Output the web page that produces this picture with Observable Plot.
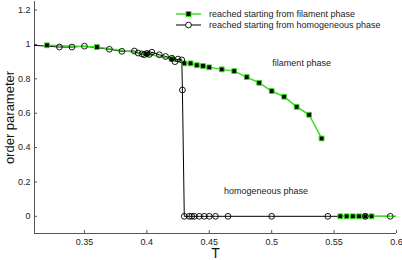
<!DOCTYPE html>
<html><head><meta charset="utf-8">
<script src="https://cdn.jsdelivr.net/npm/d3@7"></script>
<script src="https://cdn.jsdelivr.net/npm/@observablehq/plot@0.6"></script>
<style>
body{margin:0;background:#fff;font-family:"Liberation Sans",Arial,sans-serif;}
#wrap{position:relative;width:402px;height:260px;}
#legend{position:absolute;left:0;top:0;}
</style></head><body><div id="wrap"></div>
<script>
// series reached starting from filament phase (two branches)
const filamentT   = [0.32, 0.36, 0.40, 0.42, 0.43, 0.435, 0.44, 0.445, 0.45, 0.46, 0.47, 0.48, 0.49, 0.50, 0.51, 0.52, 0.53, 0.54,
                     0.555, 0.56, 0.565, 0.57, 0.575, 0.58, 0.61];
const filamentOP  = [0.995, 0.985, 0.945, 0.915, 0.89, 0.89, 0.879, 0.875, 0.867, 0.855, 0.845, 0.81, 0.777, 0.729, 0.696, 0.637, 0.591, 0.453,
                     0, 0, 0, 0, 0, 0, 0];
const filamentBranch = [1,1,1,1,1,1,1,1,1,1,1,1,1,1,1,1,1,1, 2,2,2,2,2,2,2];
// series reached starting from homogeneous phase
const homogT  = [0.30, 0.33, 0.34, 0.35, 0.37, 0.38, 0.39, 0.393, 0.396, 0.398, 0.400, 0.402, 0.404, 0.41, 0.415, 0.42, 0.4225, 0.425, 0.428, 0.4285,
                 0.43, 0.434, 0.436, 0.438, 0.442, 0.446, 0.45, 0.455, 0.465, 0.50, 0.545, 0.575, 0.595];
const homogOP = [1.0, 0.985, 0.985, 0.99, 0.972, 0.96, 0.962, 0.95, 0.945, 0.94, 0.948, 0.942, 0.955, 0.94, 0.93, 0.92, 0.90, 0.915, 0.91, 0.735,
                 0, 0, 0, 0, 0, 0, 0, 0, 0, 0, 0, 0, 0];
// axes
const xDomain = [0.31, 0.6];
const yDomain = [-0.1, 1.25];
const xTicks = [0.35, 0.4, 0.45, 0.5, 0.55, 0.6];
const xTickLabels = ["0.35", "0.4", "0.45", "0.5", "0.55", "0.6"];
const yTicks = [0, 0.2, 0.4, 0.6, 0.8, 1, 1.2];
const yTickLabels = ["0", "0.2", "0.4", "0.6", "0.8", "1", "1.2"];
const xLabel = "T";
const yLabel = "order parameter";
// annotations
const annoText = ["filament phase", "homogeneous phase"];
const annoT = [0.524, 0.4955];
const annoOP = [0.894, 0.149];
// legend
const legendLabels = ["reached starting from filament phase", "reached starting from homogeneous phase"];

const GREEN = "#3ddc24";
const fil = filamentT.map((t, i) => ({t, op: filamentOP[i], b: filamentBranch[i]}));
const hom = homogT.map((t, i) => ({t, op: homogOP[i]}));
const anno = annoText.map((s, i) => ({s, t: annoT[i], op: annoOP[i]}));

const fmtX = d => xTickLabels[xTicks.indexOf(d)];
const fmtY = d => yTickLabels[yTicks.indexOf(d)];

const chart = Plot.plot({
  width: 402, height: 260,
  marginLeft: 34, marginRight: 6, marginTop: 1, marginBottom: 27,
  style: {fontFamily: '"Liberation Sans", Arial, sans-serif', fontSize: "9px", color: "#222", background: "#fff"},
  x: {domain: xDomain, axis: null},
  y: {domain: yDomain, axis: null},
  marks: [
    Plot.ruleY([yDomain[0]], {stroke: "#555", strokeWidth: 1}),
    Plot.ruleX([xDomain[0]], {stroke: "#555", strokeWidth: 1}),
    Plot.axisX(xTicks, {anchor: "bottom", tickSize: -3, tickPadding: 8, tickFormat: fmtX, stroke: "#555", fill: "#222", label: null}),
    Plot.axisY(yTicks, {anchor: "left", tickSize: -3, tickPadding: 7, tickFormat: fmtY, stroke: "#555", fill: "#222", label: null}),
    Plot.text([yLabel], {frameAnchor: "left", dx: -25, rotate: -90, textAnchor: "middle", fontSize: 13, fill: "#111", text: d => d}),
    Plot.text([xLabel], {frameAnchor: "bottom", dy: 24.5, fontSize: 14, fill: "#111", text: d => d}),
    Plot.line(hom, {x: "t", y: "op", stroke: "#000", strokeWidth: 1, clip: true}),
    Plot.line(fil, {x: "t", y: "op", z: "b", stroke: GREEN, strokeWidth: 1.5, clip: true}),
    Plot.dot(fil, {x: "t", y: "op", symbol: "square", r: 2.7, fill: "#000", stroke: GREEN, strokeWidth: 1, clip: true}),
    Plot.dot(hom, {x: "t", y: "op", symbol: "circle", r: 2.9, fill: "none", stroke: "#000", strokeWidth: 0.9, clip: true}),
    Plot.text(anno, {x: "t", y: "op", text: "s", fontSize: 9, fill: "#222"})
  ]
});
const wrap = document.getElementById("wrap");
wrap.appendChild(chart);

// legend overlay
const lg = d3.select(wrap).append("svg").attr("id", "legend").attr("width", 402).attr("height", 40)
  .style("font-family", '"Liberation Sans", Arial, sans-serif').style("font-size", "9px");
const rows = legendLabels.map((s, i) => ({s, i}));
const row = lg.selectAll("g").data(rows).join("g").attr("transform", d => `translate(176,${14 + d.i * 11})`);
row.append("line").attr("x1", 0).attr("x2", 25).attr("y1", 0).attr("y2", 0)
  .attr("stroke", d => d.i === 0 ? GREEN : "#000").attr("stroke-width", d => d.i === 0 ? 1.5 : 1);
row.filter(d => d.i === 0).append("rect").attr("x", 10).attr("y", -2.5).attr("width", 5).attr("height", 5)
  .attr("fill", "#000").attr("stroke", GREEN).attr("stroke-width", 1);
row.filter(d => d.i === 1).append("circle").attr("cx", 12.5).attr("cy", 0).attr("r", 2.9)
  .attr("fill", "#fff").attr("stroke", "#000").attr("stroke-width", 0.9);
row.append("text").attr("x", 33).attr("y", 0).attr("dy", "0.35em").attr("fill", "#222").text(d => d.s);
</script>
</body></html>
